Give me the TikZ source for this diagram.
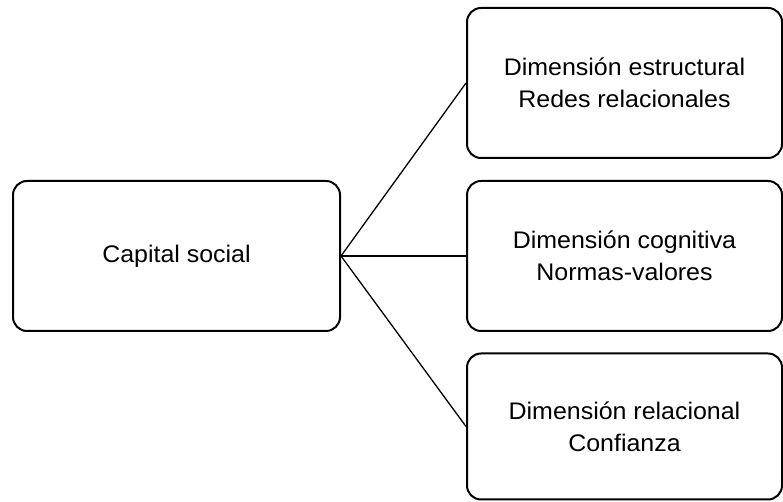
\documentclass[tikz,border=0pt]{standalone}
\usepackage{fontspec}
\setmainfont{Liberation Sans}[FakeStretch=1.04]
\begin{document}
\begin{tikzpicture}[x=1pt,y=1pt,
  box/.style={draw=black, line width=2pt, rounded corners=14pt, fill=white, inner sep=0pt},
  lbl/.style={align=center, font=\fontsize{24}{32}\selectfont, inner sep=0pt},
  conn/.style={draw=black, line width=1.3pt}]
\useasboundingbox (0,0) rectangle (783,502);
% boxes (y = 502 - image y)
\node[box, minimum width=327pt, minimum height=150pt] (cs) at (176.5,246) {};
\node[box, minimum width=315pt, minimum height=150pt] (r1) at (624.5,419) {};
\node[box, minimum width=315pt, minimum height=150pt] (r2) at (624.5,246) {};
\node[box, minimum width=315pt, minimum height=146pt] (r3) at (624.5,75.5) {};
% texts
\node[lbl] (tcs) at (cs.center) {Capital social};
\node[lbl] (t1) at (r1.center) {Dimensión estructural\\Redes relacionales};
\node[lbl] (t2) at (r2.center) {Dimensión cognitiva\\Normas-valores};
\node[lbl] (t3) at (r3.center) {Dimensión relacional\\Confianza};
% connectors
\draw[conn] (cs.east) -- (r1.west);
\draw[conn] (cs.east) -- (r2.west);
\draw[conn] (cs.east) -- (r3.west);
\end{tikzpicture}
\end{document}
